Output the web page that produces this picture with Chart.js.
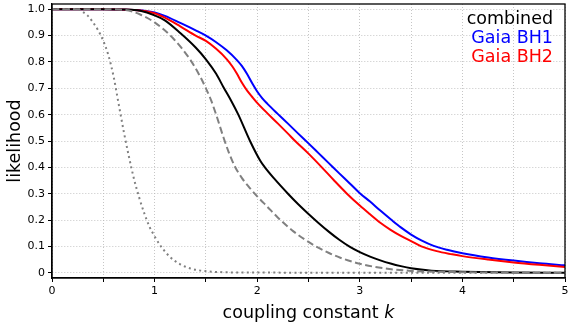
<!DOCTYPE html>
<html><head><meta charset="utf-8">
<script src="https://cdn.jsdelivr.net/npm/chart.js@4/dist/chart.umd.min.js"></script>
<style>html,body{margin:0;padding:0;background:#fff;}canvas{display:block}</style>
</head><body>
<canvas id="c" width="576" height="324"></canvas>
<script>
// ---- data ----
const kBH1    = [0, 0.5, 0.8, 0.9, 1.0, 1.1, 1.25, 1.4, 1.5, 1.6, 1.7, 1.8, 1.85, 1.9, 1.95, 2.0, 2.05, 2.1, 2.2, 2.3, 2.4, 2.5, 2.6, 2.7, 2.8, 2.9, 3.0, 3.1, 3.2, 3.31, 3.4, 3.5, 3.6, 3.72, 3.85, 4.0, 4.25, 4.5, 4.75, 5.0];
const likeBH1 = [1, 1, 0.997, 0.994, 0.988, 0.975, 0.948, 0.92, 0.90, 0.875, 0.845, 0.808, 0.785, 0.755, 0.72, 0.688, 0.662, 0.641, 0.603, 0.566, 0.528, 0.491, 0.453, 0.415, 0.377, 0.34, 0.302, 0.27, 0.236, 0.20, 0.172, 0.145, 0.123, 0.102, 0.087, 0.074, 0.058, 0.046, 0.036, 0.028];

const kBH2    = [0, 0.5, 0.8, 1.0, 1.1, 1.25, 1.4, 1.5, 1.6, 1.7, 1.76, 1.8, 1.85, 1.9, 1.95, 2.0, 2.1, 2.2, 2.3, 2.37, 2.5, 2.63, 2.75, 2.87, 3.0, 3.1, 3.2, 3.3, 3.4, 3.5, 3.6, 3.75, 3.9, 4.0, 4.25, 4.5, 4.75, 5.0];
const likeBH2 = [1, 1, 0.997, 0.985, 0.968, 0.935, 0.90, 0.88, 0.85, 0.812, 0.782, 0.757, 0.722, 0.692, 0.668, 0.645, 0.605, 0.567, 0.528, 0.50, 0.452, 0.40, 0.35, 0.302, 0.255, 0.222, 0.19, 0.163, 0.14, 0.12, 0.10, 0.082, 0.07, 0.063, 0.05, 0.039, 0.03, 0.022];

const kComb    = [0, 0.5, 0.7, 0.86, 1.0, 1.1, 1.25, 1.4, 1.5, 1.6, 1.67, 1.75, 1.816, 1.93, 2.03, 2.075, 2.16, 2.3, 2.4, 2.5, 2.6, 2.7, 2.8, 2.9, 3.0, 3.1, 3.2, 3.3, 3.4, 3.5, 3.7, 4.0, 4.5, 5.0];
const likeComb = [1, 1, 0.999, 0.994, 0.977, 0.958, 0.91, 0.855, 0.81, 0.755, 0.705, 0.65, 0.60, 0.50, 0.425, 0.40, 0.36, 0.30, 0.26, 0.223, 0.188, 0.155, 0.125, 0.099, 0.078, 0.061, 0.047, 0.035, 0.025, 0.017, 0.008, 0.004, 0.001, 0.0];

const kDash    = [0, 0.5, 0.7, 0.86, 1.0, 1.18, 1.35, 1.45, 1.5, 1.55, 1.6, 1.67, 1.72, 1.78, 1.85, 1.92, 2.0, 2.1, 2.2, 2.35, 2.55, 2.7, 2.81, 3.0, 3.25, 3.5, 4.0, 5.0];
const likeDash = [1, 1, 0.998, 0.98, 0.95, 0.89, 0.807, 0.74, 0.70, 0.655, 0.60, 0.515, 0.46, 0.405, 0.36, 0.325, 0.29, 0.25, 0.21, 0.158, 0.105, 0.075, 0.057, 0.034, 0.016, 0.007, 0.002, 0.0];

const kDot    = [0, 0.25, 0.3, 0.35, 0.4, 0.45, 0.5, 0.55, 0.6, 0.65, 0.7, 0.75, 0.8, 0.85, 0.9, 0.95, 1.0, 1.062, 1.15, 1.25, 1.35, 1.45, 1.6, 2.0, 5.0];
const likeDot = [1, 1, 0.99, 0.975, 0.95, 0.92, 0.88, 0.825, 0.745, 0.64, 0.535, 0.44, 0.355, 0.285, 0.225, 0.175, 0.138, 0.10, 0.06, 0.032, 0.016, 0.008, 0.003, 0.0005, 0.0];

const xTickValues = [0, 0.5, 1, 1.5, 2, 2.5, 3, 3.5, 4, 4.5, 5];
const xTickLabels = ['0', '', '1', '', '2', '', '3', '', '4', '', '5'];
const yTickValues = [0, 0.1, 0.2, 0.3, 0.4, 0.5, 0.6, 0.7, 0.8, 0.9, 1.0];
const yTickLabels = ['0', '0.1', '0.2', '0.3', '0.4', '0.5', '0.6', '0.7', '0.8', '0.9', '1.0'];

const legendLabels = ['combined', 'Gaia BH1', 'Gaia BH2'];
const legendColors = ['#000000', '#0000ff', '#ff0000'];
const xTitle = 'coupling constant ';
const xTitleVar = 'k';
const yTitle = 'likelihood';

// ---- chart ----
const FONT = 'DejaVu Sans';
const pts = (xs, ys) => xs.map((x, i) => ({x: x, y: ys[i]}));

const framePlugin = {
  id: 'frameAndText',
  afterDraw(chart) {
    const ctx = chart.ctx, a = chart.chartArea;
    ctx.save();
    ctx.strokeStyle = '#000';
    ctx.lineWidth = 1.3;
    ctx.strokeRect(a.left, a.top, a.right - a.left, a.bottom - a.top);
    // legend text
    ctx.font = '17.5px "' + FONT + '"';
    ctx.textAlign = 'right';
    ctx.textBaseline = 'alphabetic';
    legendLabels.forEach((t, i) => {
      ctx.fillStyle = legendColors[i];
      ctx.fillText(t, 553, 23.5 + i * 19);
    });
    // x title with italic k
    ctx.fillStyle = '#000';
    ctx.textAlign = 'left';
    const f1 = '17.5px "' + FONT + '"', f2 = 'italic 17.5px "' + FONT + '"';
    ctx.font = f1; const w1 = ctx.measureText(xTitle).width;
    ctx.font = f2; const w2 = ctx.measureText(xTitleVar).width;
    const cx = (a.left + a.right) / 2;
    const x0 = cx - (w1 + w2) / 2;
    ctx.font = f1; ctx.fillText(xTitle, x0, 318);
    ctx.font = f2; ctx.fillText(xTitleVar, x0 + w1, 318);
    // y title
    ctx.translate(20, (a.top + a.bottom) / 2);
    ctx.rotate(-Math.PI / 2);
    ctx.textAlign = 'center';
    ctx.font = f1;
    ctx.fillText(yTitle, 0, 0);
    ctx.restore();
  }
};

const gridCommon = {
  color: '#b8b8b8', lineWidth: 0.8, tickLength: 4, tickColor: '#000', tickWidth: 1, tickBorderDash: []
};
const borderCommon = {display: true, color: '#000', width: 1.3, dash: [1, 2]};

new Chart(document.getElementById('c'), {
  type: 'line',
  data: {
    datasets: [
      {label: 'Gaia BH1', data: pts(kBH1, likeBH1), borderColor: '#0000ff', borderWidth: 2, order: 5},
      {label: 'Gaia BH2', data: pts(kBH2, likeBH2), borderColor: '#ff0000', borderWidth: 2, order: 4},
      {label: 'combined', data: pts(kComb, likeComb), borderColor: '#000000', borderWidth: 2, order: 3},
      {label: 'dashed', data: pts(kDash, likeDash), borderColor: '#808080', borderWidth: 2, borderDash: [7, 3.5], order: 2},
      {label: 'dotted', data: pts(kDot, likeDot), borderColor: '#808080', borderWidth: 2, borderDash: [2, 3.3], order: 1}
    ]
  },
  options: {
    responsive: false,
    animation: false,
    devicePixelRatio: 1,
    elements: {
      point: {radius: 0, hoverRadius: 0},
      line: {cubicInterpolationMode: 'monotone', fill: false, borderCapStyle: 'butt'}
    },
    layout: {padding: {left: 0, right: 11, top: 4, bottom: 0}},
    plugins: {legend: {display: false}, tooltip: {enabled: false}},
    scales: {
      x: {
        type: 'linear', min: 0, max: 5,
        afterBuildTicks: s => { s.ticks = xTickValues.map(v => ({value: v})); },
        afterFit: s => { s.height = 46; s.paddingLeft = 0; s.paddingRight = 0; },
        ticks: {
          autoSkip: false, maxRotation: 0, padding: 3, color: '#000',
          font: {family: FONT, size: 11},
          callback: (v, i) => xTickLabels[i]
        },
        grid: gridCommon,
        border: borderCommon
      },
      y: {
        type: 'linear', min: -0.02, max: 1.02,
        afterBuildTicks: s => { s.ticks = yTickValues.map(v => ({value: v})); },
        afterFit: s => { s.width = 52; s.paddingTop = 0; s.paddingBottom = 0; },
        ticks: {
          autoSkip: false, padding: 3, color: '#000',
          font: {family: FONT, size: 11},
          callback: (v, i) => yTickLabels[i]
        },
        grid: gridCommon,
        border: borderCommon
      }
    }
  },
  plugins: [framePlugin]
});
</script>
</body></html>
